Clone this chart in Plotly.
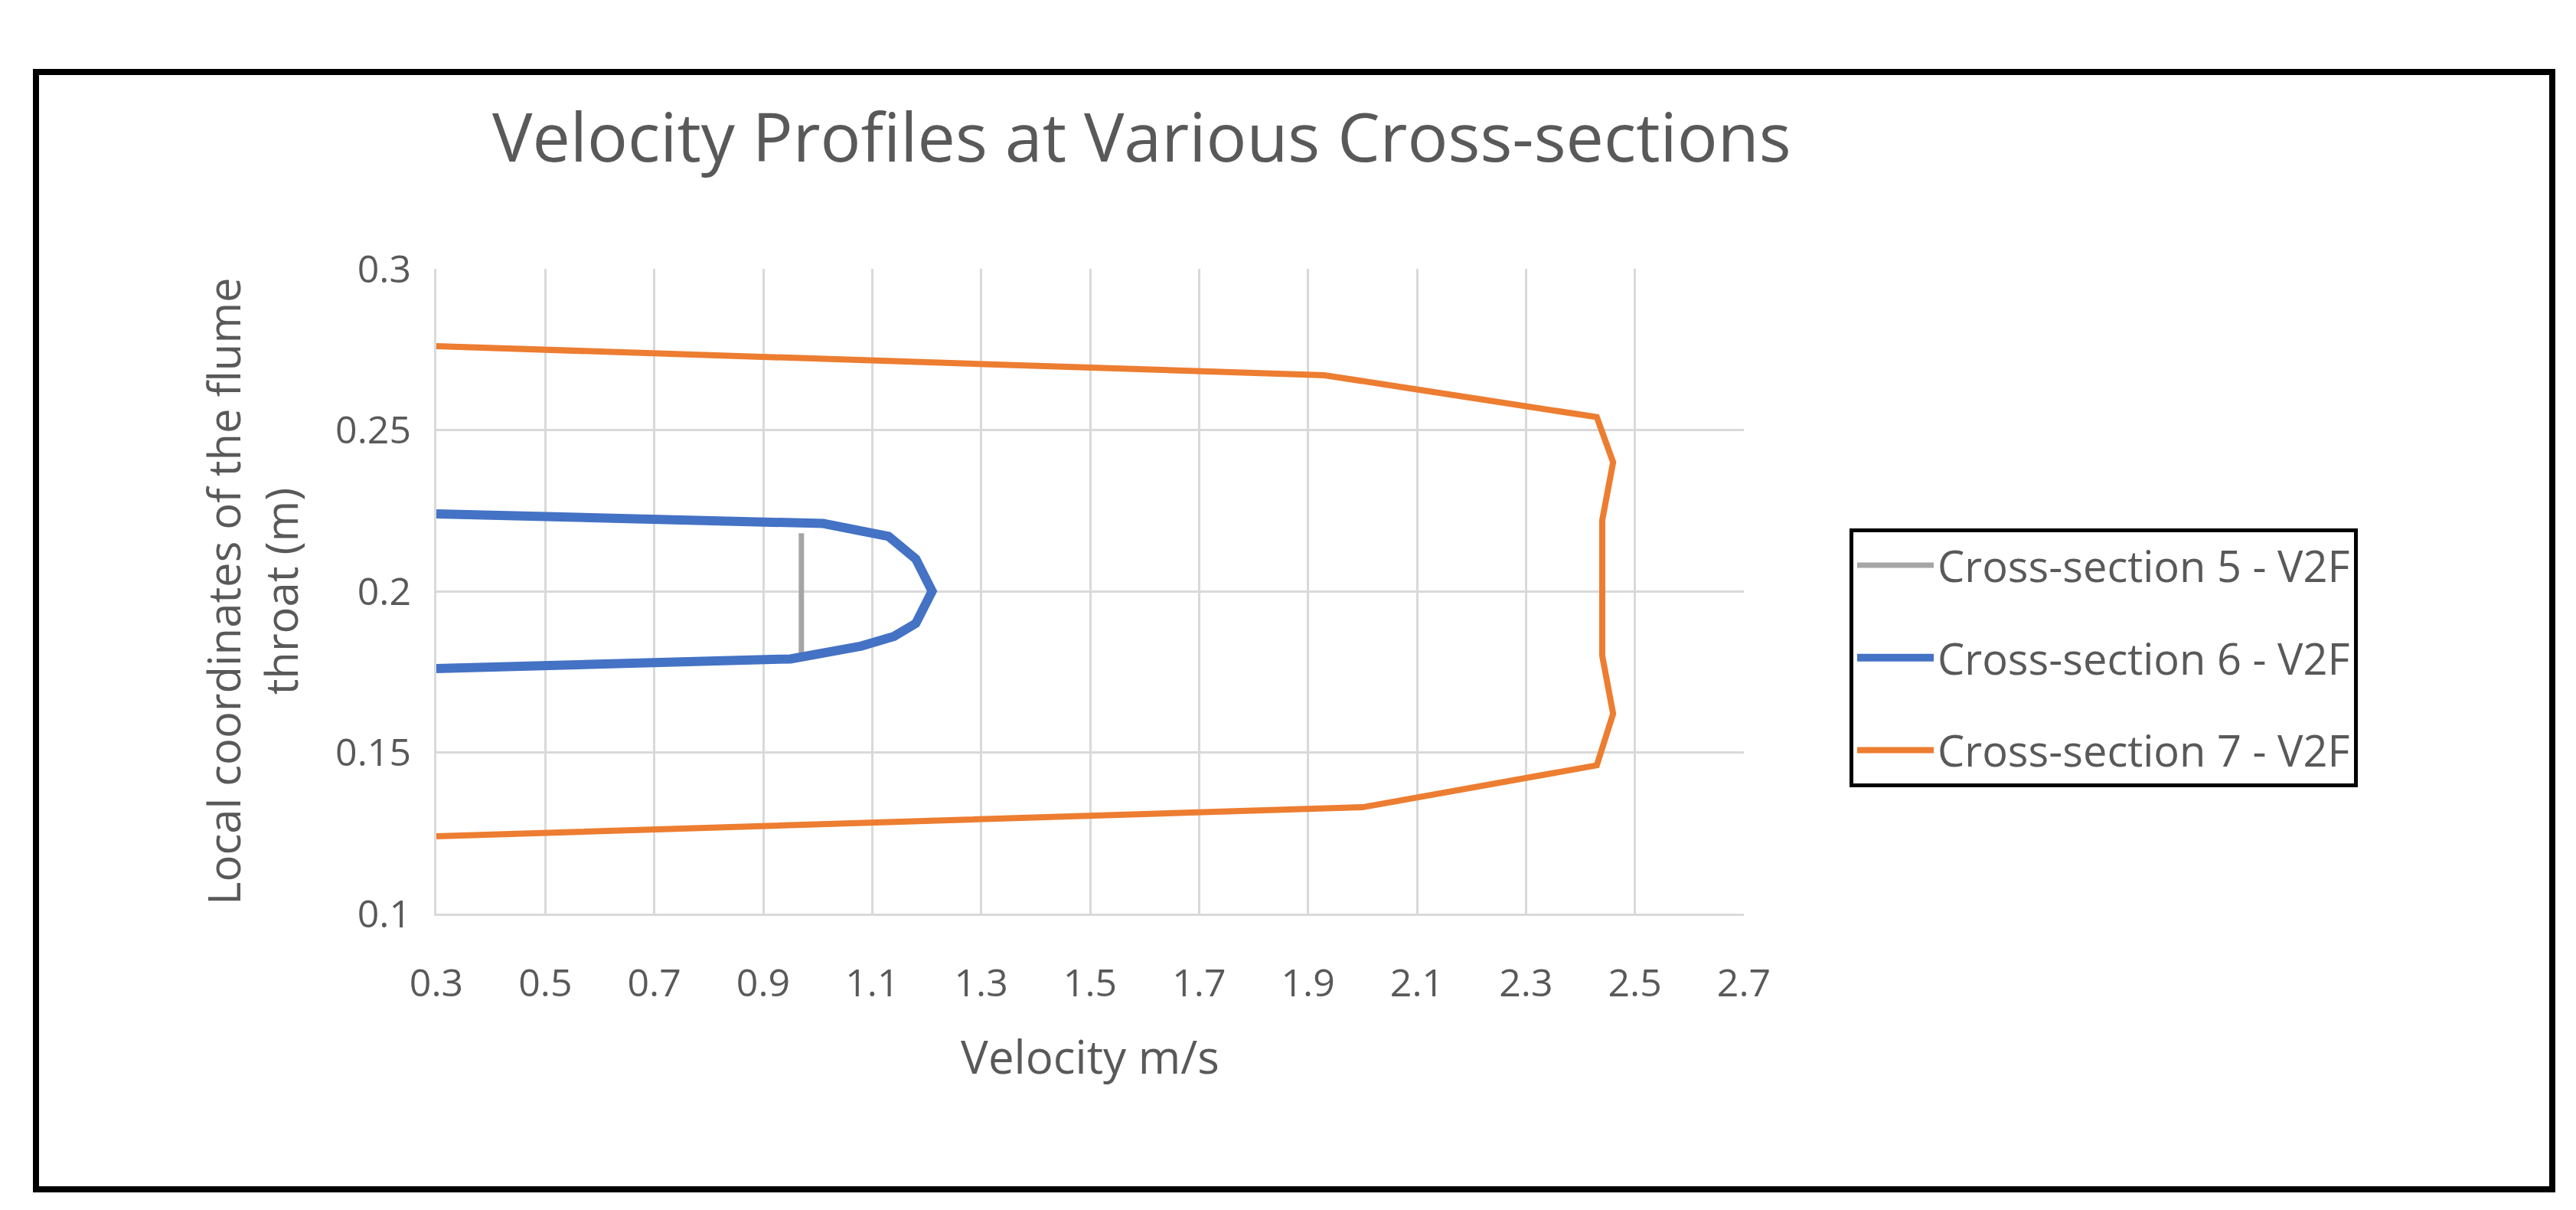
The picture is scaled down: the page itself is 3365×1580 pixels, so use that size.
import plotly.graph_objects as go

W, H = 3365, 1580
# data
cs5_v = [0.97, 0.97]
cs5_y = [0.218, 0.180]
cs6_v = [0.30, 1.01, 1.13, 1.18, 1.21, 1.18, 1.14, 1.08, 0.95, 0.30]
cs6_y = [0.224, 0.221, 0.217, 0.210, 0.200, 0.190, 0.186, 0.183, 0.179, 0.176]
cs7_v = [0.30, 1.93, 2.43, 2.46, 2.44, 2.44, 2.44, 2.46, 2.43, 2.00, 0.30]
cs7_y = [0.276, 0.267, 0.254, 0.240, 0.222, 0.200, 0.180, 0.162, 0.146, 0.133, 0.124]
names = ["Cross-section 5 - V2F", "Cross-section 6 - V2F", "Cross-section 7 - V2F"]
xticks = [0.3, 0.5, 0.7, 0.9, 1.1, 1.3, 1.5, 1.7, 1.9, 2.1, 2.3, 2.5, 2.7]
yticks = [0.1, 0.15, 0.2, 0.25, 0.3]

L, R, T, B = 562, 2270, 343, 1185
pw, ph = R - L, B - T
def px(x): return (x - L) / pw
def py(y): return (B - y) / ph

fig = go.Figure()
fig.add_trace(go.Scatter(x=cs5_v, y=cs5_y, mode="lines", name=names[0], legendgroup="a",
                         line=dict(color="#a5a5a5", width=7)))
fig.add_trace(go.Scatter(x=cs6_v, y=cs6_y, mode="lines", name=names[1], legendgroup="b",
                         line=dict(color="#4472c4", width=12)))
fig.add_trace(go.Scatter(x=cs7_v, y=cs7_y, mode="lines", name=names[2], legendgroup="c",
                         line=dict(color="#ed7d31", width=8)))

font = "Open Sans"
fig.update_layout(
    width=W, height=H, paper_bgcolor="white", plot_bgcolor="white",
    margin=dict(l=L, r=W - R, t=T, b=H - B, autoexpand=False),
    font=dict(family=font, color="#595959", size=52),
    title=dict(text="Velocity Profiles at Various Cross-sections", x=(L + R) / 2 / W + 0.02, xanchor="center",
               y=1 - 172 / H, yanchor="middle", font=dict(size=88, color="#595959")),
    xaxis=dict(range=[0.3, 2.7], tickvals=xticks, ticktext=[f"{v:.1f}" for v in xticks],
               showgrid=True, gridcolor="#d9d9d9", gridwidth=3, zeroline=False,
               showline=True, linecolor="#d9d9d9", linewidth=3, mirror=False,
               ticks="", ticklabelstandoff=45, tickfont=dict(size=50),
               title=dict(text="Velocity m/s", font=dict(size=60), standoff=45)),
    yaxis=dict(range=[0.1, 0.3], tickvals=yticks, ticktext=["0.1", "0.15", "0.2", "0.25", "0.3"],
               showgrid=True, gridcolor="#d9d9d9", gridwidth=3, zeroline=False,
               showline=True, linecolor="#d9d9d9", linewidth=3,
               ticks="", ticklabelstandoff=20, tickfont=dict(size=50),
               title=dict(text="Local coordinates of the flume<br>throat (m)", font=dict(size=58), standoff=30)),
    legend=dict(x=px(2408), y=py(682), xanchor="left", yanchor="top",
                bordercolor="black", borderwidth=5, bgcolor="white",
                font=dict(size=56, color="#595959"), tracegroupgap=45,
                itemwidth=100),
    shapes=[dict(type="rect", xref="paper", yref="paper",
                 x0=px(39), x1=px(3326), y0=py(1545), y1=py(86),
                 line=dict(color="black", width=8), fillcolor="rgba(0,0,0,0)", layer="below")],
)
fig.write_html("out.html")
